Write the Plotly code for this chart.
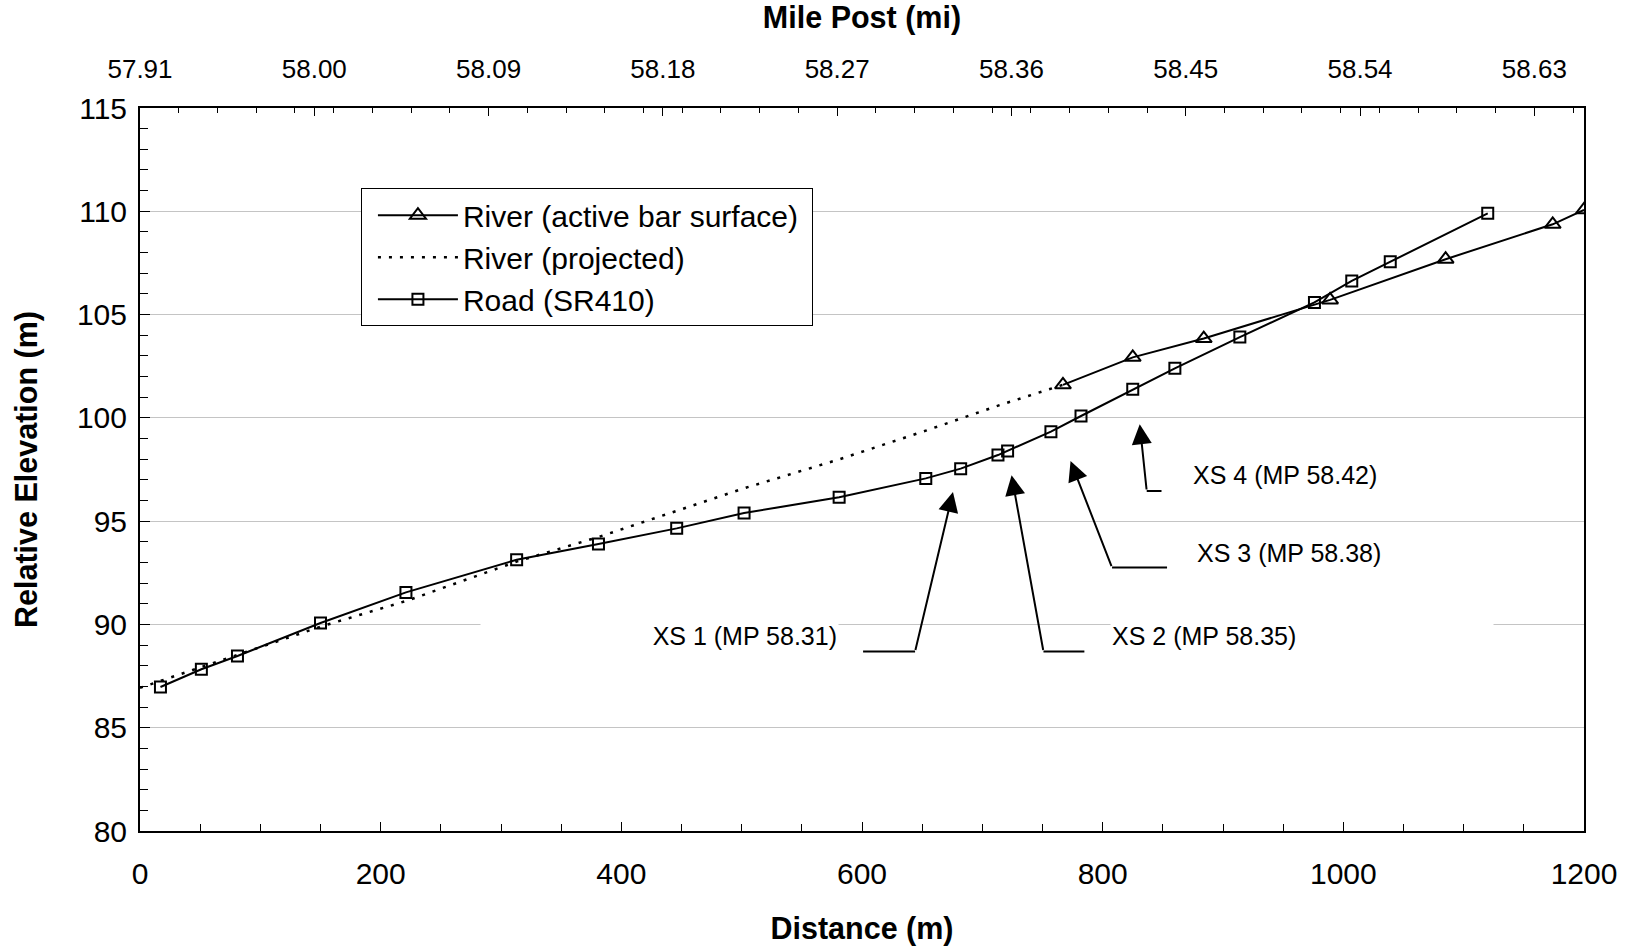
import plotly.graph_objects as go

# ---------------- data ----------------
road_x = [17, 51, 81, 150, 221, 313, 381, 446, 502, 581, 653, 682, 713, 721,
          757, 782, 825, 860, 914, 976, 1007, 1039, 1120]
road_y = [86.97, 87.83, 88.47, 90.07, 91.55, 93.13, 93.89, 94.65, 95.39, 96.16,
          97.07, 97.54, 98.2, 98.4, 99.33, 100.09, 101.38, 102.4, 103.91, 105.59,
          106.63, 107.56, 109.9]

river_x = [767, 825, 884, 989, 1085, 1174, 1200]
river_y = [101.6, 102.93, 103.84, 105.71, 107.68, 109.37, 110.07]

proj_x = [0, 150, 222, 313, 382, 502, 581, 653, 712, 767]
proj_y = [86.93, 89.89, 91.15, 93.04, 94.25, 96.59, 97.99, 99.38, 100.57, 101.6]

mile_ticks = [57.91, 58.00, 58.09, 58.18, 58.27, 58.36, 58.45, 58.54, 58.63]
mile_labels = ["57.91", "58.00", "58.09", "58.18", "58.27", "58.36", "58.45", "58.54", "58.63"]
mile_start = 57.91
m_per_mile = 1609.344

# callouts: label, label position, tail (bend) point, elbow end, arrow tip
xs_labels = ["XS 1 (MP 58.31)", "XS 2 (MP 58.35)", "XS 3 (MP 58.38)", "XS 4 (MP 58.42)"]
xs_label_x = [580.5, 806.0, 877.0, 873.0]
xs_label_y = [89.45, 89.45, 93.46, 97.23]
xs_label_anchor = ["right", "left", "left", "left"]
xs_label_width = [355, 380, 200, 200]
xs_tail_x = [644.1, 750.8, 807.8, 836.6]
xs_tail_y = [88.69, 88.69, 92.75, 96.46]
xs_elbow_x = [600.9, 784.8, 853.5, 848.9]
xs_tip_x = [675.6, 724.3, 773.3, 830.8]
xs_tip_y = [96.41, 97.22, 97.91, 99.69]

FONT = "Liberation Sans, Arial, sans-serif"

fig = go.Figure()

fig.add_trace(go.Scatter(
    x=river_x, y=river_y, name="River (active bar surface)\u00a0", mode="lines+markers",
    line=dict(color="black", width=2),
    marker=dict(symbol="triangle-up-open", size=14, color="black", line=dict(width=2, color="black")),
))
fig.add_trace(go.Scatter(
    x=proj_x, y=proj_y, name="River (projected)", mode="lines",
    line=dict(color="black", width=2.5, dash="3px,8px"),
))
fig.add_trace(go.Scatter(
    x=road_x, y=road_y, name="Road (SR410)", mode="lines+markers",
    line=dict(color="black", width=2),
    marker=dict(symbol="square-open", size=11, color="black", line=dict(width=2, color="black")),
))
# trace on the mile-post axis so it is drawn
fig.add_trace(go.Scatter(
    x=[mile_start + d / m_per_mile for d in road_x], y=[None] * len(road_x),
    xaxis="x2", mode="lines", showlegend=False, hoverinfo="skip",
))

# callout annotations
for i in range(len(xs_labels)):
    fig.add_annotation(
        x=xs_label_x[i], y=xs_label_y[i], xref="x", yref="y",
        text=xs_labels[i], showarrow=False, xanchor=xs_label_anchor[i], yanchor="middle",
        width=xs_label_width[i], align=xs_label_anchor[i], bgcolor="white",
        font=dict(family=FONT, size=25, color="black"),
    )
    fig.add_shape(type="line", xref="x", yref="y",
                  x0=xs_tail_x[i], y0=xs_tail_y[i], x1=xs_elbow_x[i], y1=xs_tail_y[i],
                  line=dict(color="black", width=2))
    fig.add_annotation(
        x=xs_tip_x[i], y=xs_tip_y[i], xref="x", yref="y",
        ax=xs_tail_x[i], ay=xs_tail_y[i], axref="x", ayref="y",
        text="", showarrow=True, arrowhead=2, arrowsize=2, arrowwidth=2,
        arrowcolor="black", standoff=0, startstandoff=0,
    )

TITLE_SIZE = 30.5

fig.update_layout(
    width=1630, height=948,
    margin=dict(l=140, r=46, t=108, b=117, autoexpand=False),
    paper_bgcolor="white", plot_bgcolor="white",
    font=dict(family=FONT, color="black"),
    showlegend=True,
    legend=dict(
        x=0.153, y=0.889, xanchor="left", yanchor="top",
        bgcolor="white", bordercolor="black", borderwidth=1,
        font=dict(family=FONT, size=30, color="black"),
        itemwidth=80, tracegroupgap=0, indentation=11,
    ),
    xaxis=dict(
        range=[0, 1200], tickvals=[0, 200, 400, 600, 800, 1000, 1200],
        ticks="inside", ticklen=9, tickwidth=1, tickcolor="black",
        minor=dict(dtick=50, tick0=0, ticks="inside", ticklen=7, tickcolor="black", showgrid=False),
        showline=True, linecolor="black", linewidth=2, mirror=False,
        showgrid=False, zeroline=False, automargin=False,
        tickfont=dict(family=FONT, size=30, color="black"),
        ticklabelstandoff=15,
        title=dict(text="<b>Distance (m)</b>", font=dict(family=FONT, size=TITLE_SIZE, color="black"), standoff=29),
    ),
    xaxis2=dict(
        overlaying="x", side="top", anchor="y",
        range=[mile_start, mile_start + 1200 / m_per_mile],
        tickmode="array", tickvals=mile_ticks, ticktext=mile_labels,
        ticks="inside", ticklen=8, tickwidth=1, tickcolor="black",
        minor=dict(tick0=mile_start, dtick=0.02, ticks="inside", ticklen=5, tickcolor="black", showgrid=False),
        showline=True, linecolor="black", linewidth=2,
        showgrid=False, zeroline=False, automargin=False,
        tickfont=dict(family=FONT, size=26, color="black"),
        ticklabelstandoff=18,
        title=dict(text="<b>Mile Post (mi)</b>", font=dict(family=FONT, size=TITLE_SIZE, color="black"), standoff=16),
    ),
    yaxis=dict(
        range=[80, 115], dtick=5, tick0=80,
        ticks="inside", ticklen=10, tickwidth=1, tickcolor="black",
        minor=dict(dtick=1, tick0=80, ticks="inside", ticklen=8, tickcolor="black", showgrid=False),
        showline=True, linecolor="black", linewidth=2, mirror=True,
        showgrid=True, gridcolor="#c4c4c4", gridwidth=1, zeroline=False, automargin=False,
        tickfont=dict(family=FONT, size=30, color="black"),
        ticklabelstandoff=5,
        title=dict(text="<b>Relative Elevation (m)</b>", font=dict(family=FONT, size=TITLE_SIZE, color="black"), standoff=30),
    ),
)

fig.write_html("out.html")
